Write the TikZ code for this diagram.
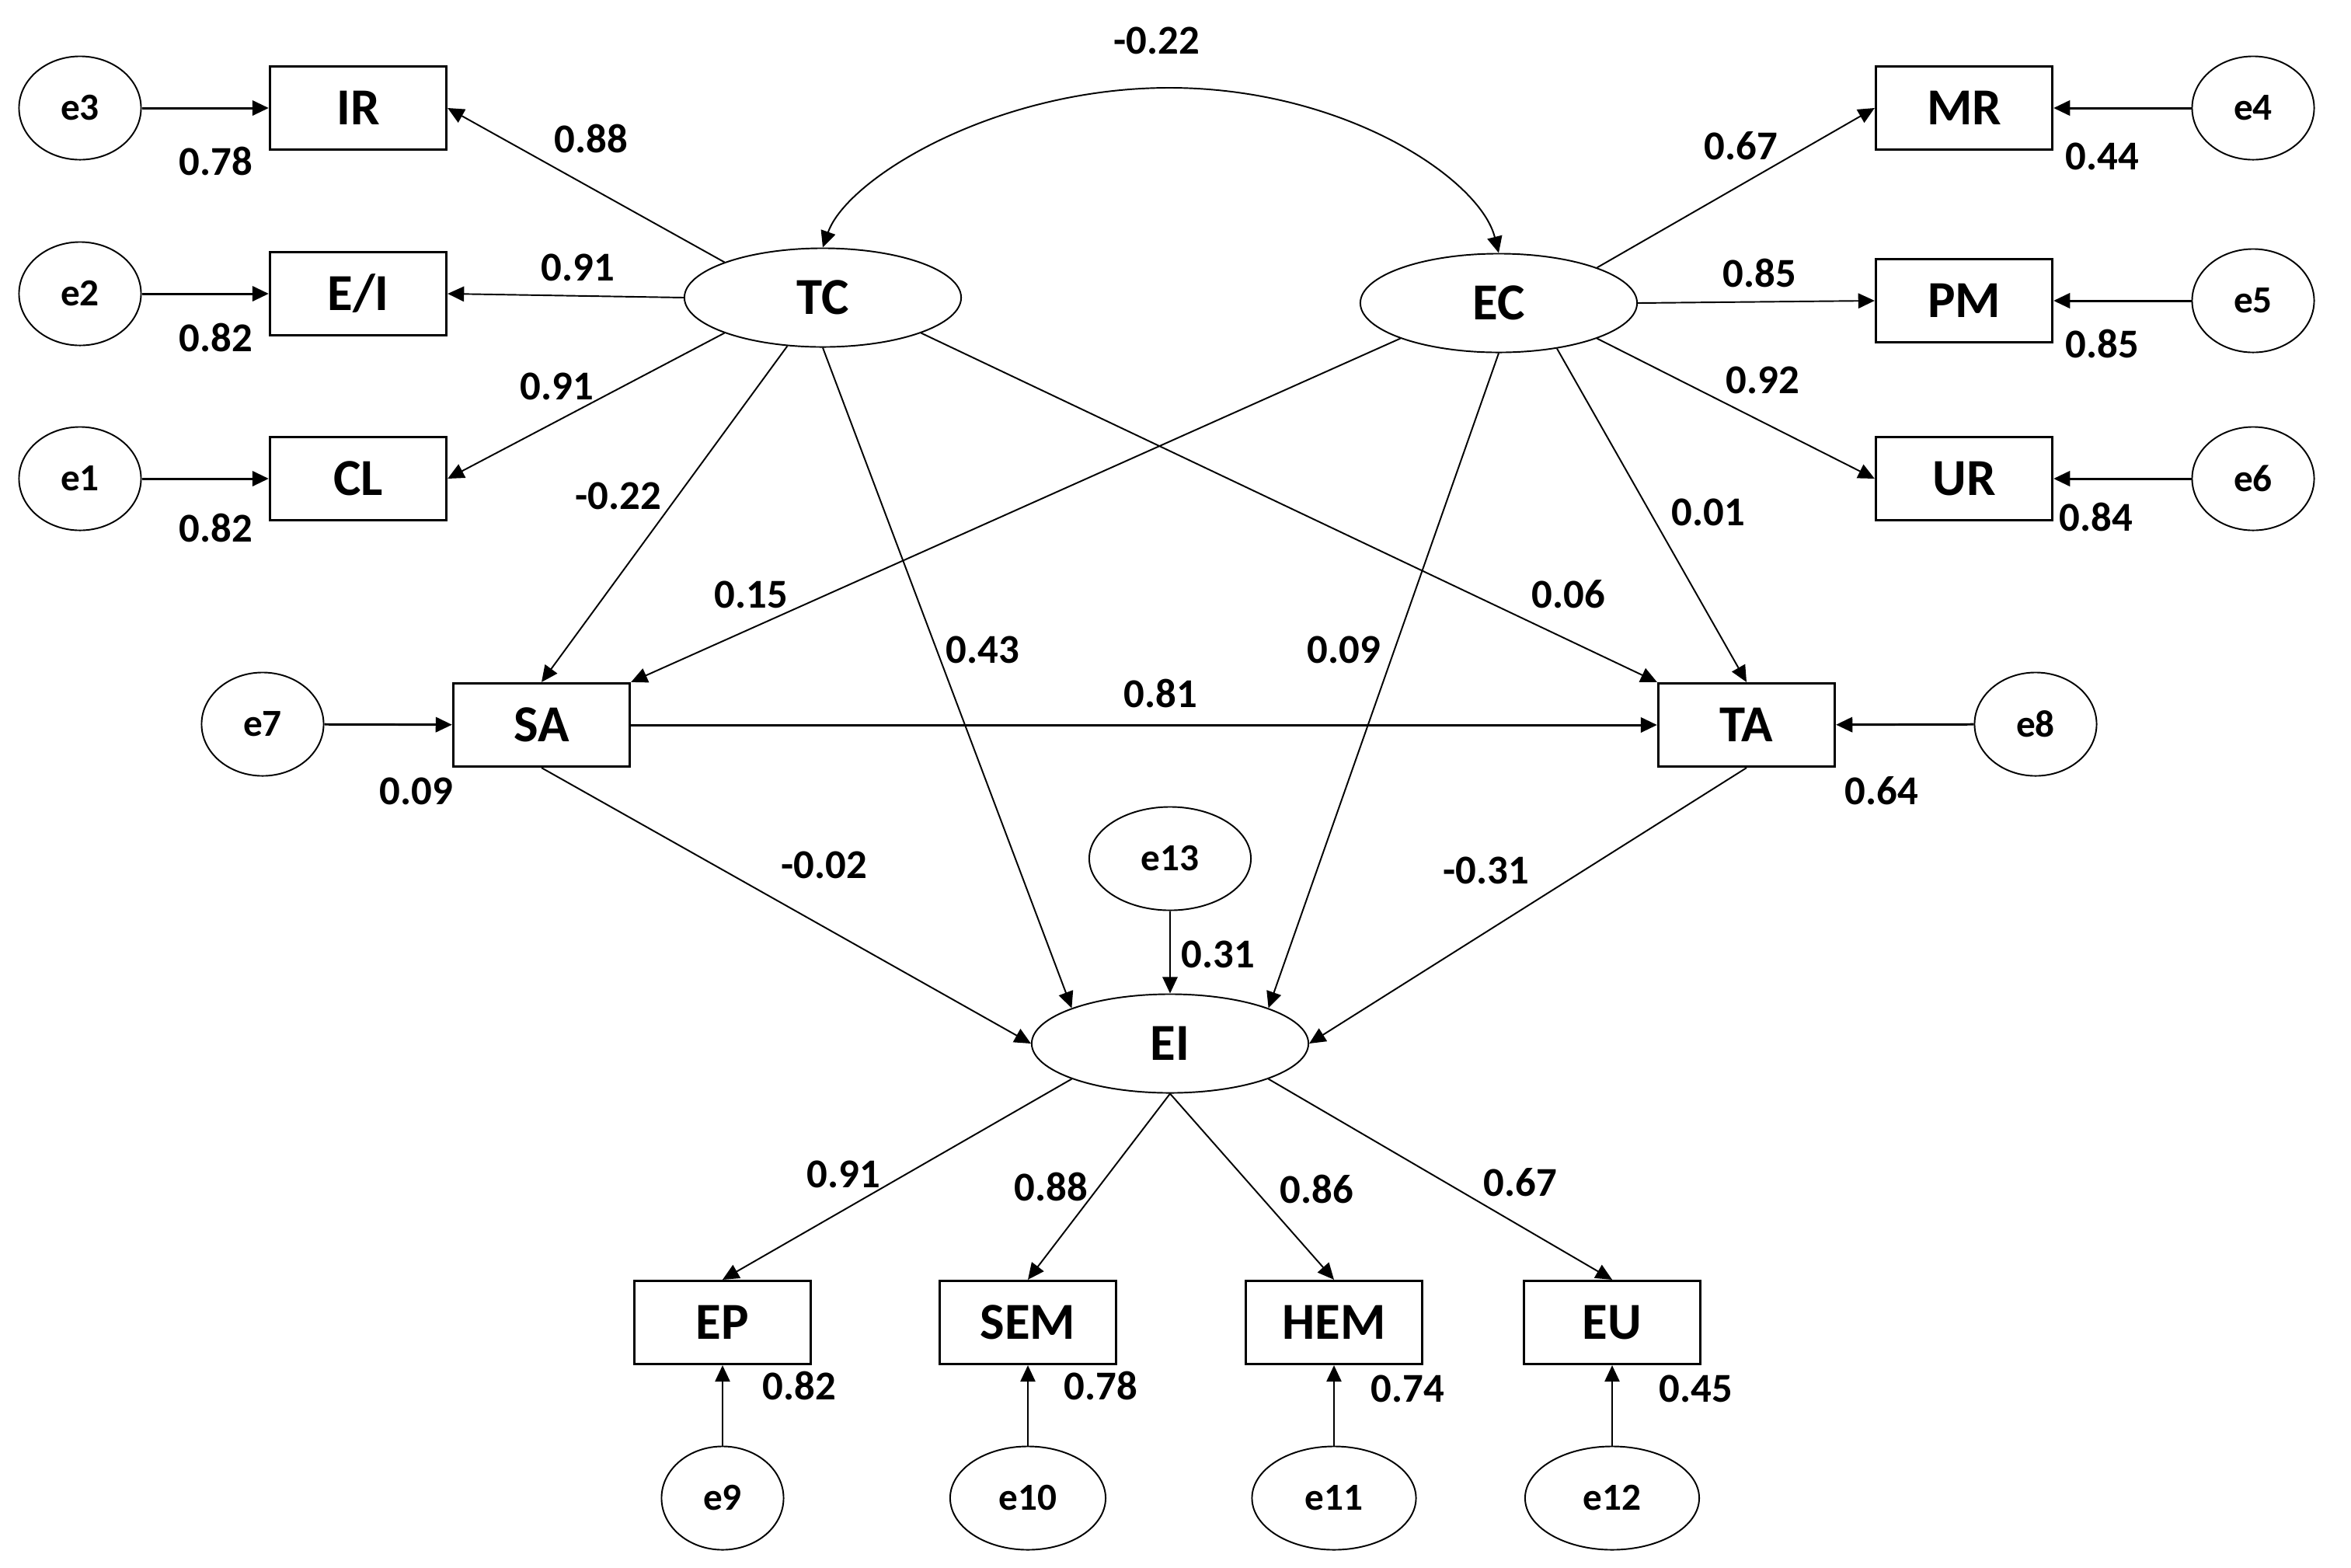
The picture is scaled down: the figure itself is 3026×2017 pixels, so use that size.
\documentclass[tikz,border=0pt]{standalone}
\usepackage{fontspec}
\setmainfont{Carlito}
\usetikzlibrary{shapes,arrows.meta}

\begin{document}
\begin{tikzpicture}[x=0.01cm, y=-0.01cm]

                \tikzstyle{ind}  = [rectangle, draw, line width=0.9pt, minimum width=2.27cm, minimum height=1.07cm, inner sep=0pt, fill=white, font=\fontsize{19}{19}\selectfont\bfseries]
                \tikzstyle{err}  = [ellipse, draw, line width=0.55pt, minimum width=1.57cm, minimum height=1.33cm, inner sep=0pt, fill=white, font=\fontsize{14}{14}\selectfont\bfseries]
                \tikzstyle{lat}  = [ellipse, draw, line width=0.55pt, minimum width=3.56cm, minimum height=1.27cm, inner sep=0pt, fill=white, font=\fontsize{19}{19}\selectfont\bfseries]
                \tikzstyle{num}  = [inner sep=0pt, font=\fontsize{15}{15}\selectfont\bfseries]
                \tikzstyle{arr}  = [-{Triangle[length=6pt,width=5.5pt]}, line width=0.55pt]
                \tikzstyle{arrb} = [-{Triangle[length=6pt,width=5.5pt]}, line width=0.85pt]

                \fill[white] (0,0) rectangle (3026,2017);
                \useasboundingbox (0,0) rectangle (3026,2017);

                % latent variables
                \node [lat](TC) at (1059,383) {TC};
                \node [lat](EC) at (1929,390) {EC};
                \node [lat](EI) at (1506,1343) {EI};

                % left and right indicators
                \foreach \nm/\txt/\err/\y in {IR/IR/e3/139, EsI/{E/I}/e2/378, CL/CL/e1/616}
                {
                        \node [ind](\nm) at (461,\y) {\txt};
                        \node [err](\err) at (103,\y) {\err};
                        \draw [arrb] (\err) -- (\nm);
                }
                \foreach \nm/\err/\y in {MR/e4/139, PM/e5/387, UR/e6/616}
                {
                        \node [ind](\nm) at (2528,\y) {\nm};
                        \node [err](\err) at (2900,\y) {\err};
                        \draw [arrb] (\err) -- (\nm);
                }

                % mediators
                \node [ind](SA) at (697,933) {SA};
                \node [ind](TA) at (2248,933) {TA};
                \node [err](e7) at (338,932) {e7};
                \node [err](e8) at (2620,932) {e8};
                \node [err, minimum width=2.08cm](e13) at (1506,1105) {e13};

                % bottom indicators
                \foreach \nm/\x/\err/\w in {EP/930/e9/1.57, SEM/1323/e10/2.0, HEM/1717/e11/2.11, EU/2075/e12/2.24}
                {
                        \node [ind](\nm) at (\x,1702) {\nm};
                        \node [err, minimum width=\w cm](\err) at (\x,1928) {\err};
                        \draw [arr] (\err) -- (\nm);
                }

                \draw [{Triangle[length=6pt,width=5.5pt]}-{Triangle[length=6pt,width=5.5pt]}, line width=0.55pt]
                        (TC.north) .. controls (1090,230) and (1280,113) .. (1505,113)
                        .. controls (1730,113) and (1905,230) .. (EC.north);

                \draw [arr] (TC.north west) -- (IR.east);
                \draw [arr] (TC.west) -- (EsI.east);
                \draw [arr] (TC.south west) -- (CL.east);
                \draw [arr] (EC.north east) -- (MR.west);
                \draw [arr] (EC.east) -- (PM.west);
                \draw [arr] (EC.south east) -- (UR.west);

                \draw [arr] (TC) -- (SA.north);
                \draw [arr] (EC.south west) -- (SA.north east);
                \draw [arr] (TC.south) -- (EI.north west);
                \draw [arr] (EC.south) -- (EI.north east);
                \draw [arr] (TC.south east) -- (TA.north west);
                \draw [arr] (EC.-38) -- (TA.north);
                \draw [arrb] (SA) -- (TA);
                \draw [arrb] (e7) -- (SA);
                \draw [arrb] (e8) -- (TA);
                \draw [arr] (SA.south) -- (EI.west);
                \draw [arr] (TA.south) -- (EI.east);
                \draw [arr] (e13) -- (EI);

                \draw [arr] (EI.south west) -- (EP.north);
                \draw [arr] (EI.south) -- (SEM.north);
                \draw [arr] (EI.south) -- (HEM.north);
                \draw [arr] (EI.south east) -- (EU.north);

                % path coefficients
                \foreach \x/\y/\t [count=\i] in {1489/52/-0.22, 761/178/0.88, 744/344/0.91, 717/497/0.91, 796/638/-0.22,
                        278/207/0.78, 278/434/0.82, 278/679/0.82, 2241/188/0.67, 2265/351/0.85, 2269/489/0.92,
                        2199/659/0.01, 2706/201/0.44, 2706/442/0.85, 2698/665/0.84, 967/765/0.15, 1265/836/0.43,
                        1730/836/0.09, 2019/765/0.06, 1494/892/0.81, 536/1018/0.09, 2422/1018/0.64,
                        1061/1113/-0.02, 1913/1120/-0.31, 1568/1228/0.31, 1086/1511/0.91, 1353/1527/0.88,
                        1695/1530/0.86, 1957/1522/0.67, 1029/1783/0.82, 1417/1783/0.78, 1812/1787/0.74, 2183/1787/0.45}
                {
                        \node [num](n\i) at (\x,\y) {\t};
                }
\end{tikzpicture}
\end{document}
